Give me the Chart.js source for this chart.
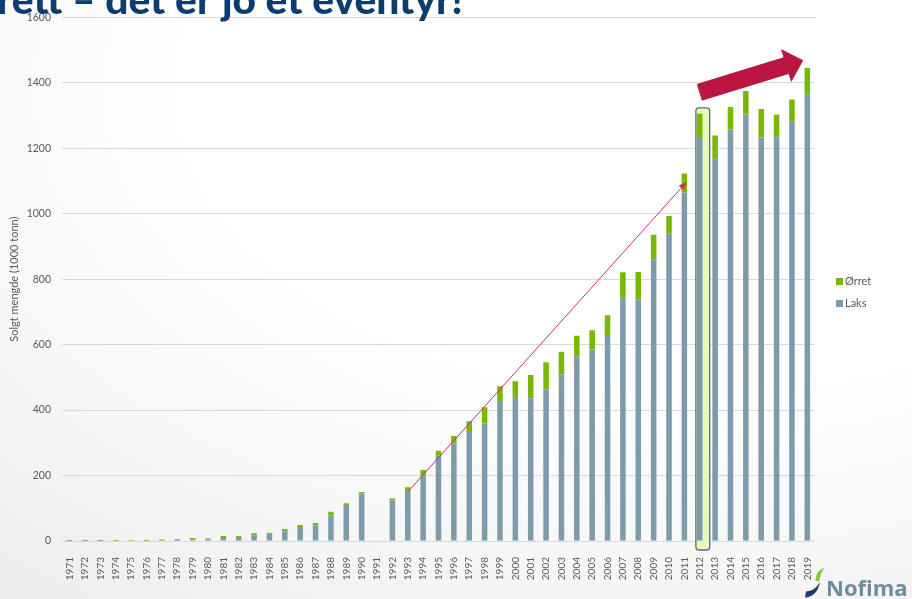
<!DOCTYPE html>
<html>
<head>
<meta charset="utf-8">
<script src="https://cdn.jsdelivr.net/npm/chart.js@4.4.1/dist/chart.umd.min.js"></script>
<style>
  html, body { margin: 0; padding: 0; }
  body {
    width: 912px; height: 599px; overflow: hidden;
    background: radial-gradient(ellipse 120% 110% at 75% 15%, #ffffff 45%, #f4f4f4 80%, #ececec 100%);
  }
  #wrap { position: relative; width: 912px; height: 599px; }
</style>
</head>
<body>
<div id="wrap"><canvas id="salesChart" width="912" height="599"></canvas></div>
<script>
const years = ['1971','1972','1973','1974','1975','1976','1977','1978','1979','1980',
    '1981','1982','1983','1984','1985','1986','1987','1988','1989','1990',
    '1991','1992','1993','1994','1995','1996','1997','1998','1999','2000',
    '2001','2002','2003','2004','2005','2006','2007','2008','2009','2010',
    '2011','2012','2013','2014','2015','2016','2017','2018','2019'];

// Solgt mengde, 1000 tonn
const laks = [0.1, 0.2, 0.2, 0.5, 0.5, 0.8, 1.5, 4, 5, 5,
    9, 10, 17, 22, 29, 43, 47, 78, 110, 145,
    null, 124, 155, 201, 261, 298, 333, 359, 425, 440,
    436, 463, 509, 564, 585, 629, 743, 738, 861, 939,
    1065, 1231, 1168, 1257, 1303, 1233, 1235, 1282, 1364];

const orret = [2, 2, 2, 2.5, 2, 2.5, 3, 2, 4, 3,
    6, 5, 7, 3, 8, 6, 8, 11, 5, 5,
    null, 6, 9, 16, 15, 23, 33, 50, 48, 48,
    71, 83, 69, 63, 59, 61, 78, 84, 75, 54,
    58, 74, 71, 69, 72, 87, 67, 67, 81];

const yTicks = [0, 200, 400, 600, 800, 1000, 1200, 1400, 1600];

const titleText = 'Oppdrett – det er jo et eventyr!';
const textGrey = '#595959';

// highlighted year, and the two arrows (in category index / value units)
const highlightYear = '2012';
const highlightTop = 1323;
const trendLine = { from: [22, 150], to: [40.15, 1097] };
const bigArrow = { from: [41, 1371], to: [47.7, 1468] };

const decorations = {
    id: 'decorations',
    beforeDatasetsDraw(chart) {
        const { ctx } = chart;
        const b = highlightBox(chart);
        ctx.save();
        ctx.fillStyle = '#e6fab9';
        roundRect(ctx, b.x, b.y, b.w, b.h, 3);
        ctx.fill();
        ctx.restore();
    },
    afterDatasetsDraw(chart) {
        const { ctx, scales: { x, y } } = chart;
        const b = highlightBox(chart);
        ctx.save();
        ctx.strokeStyle = '#5e6b70';
        ctx.lineWidth = 1.3;
        roundRect(ctx, b.x, b.y, b.w, b.h, 3);
        ctx.stroke();

        // thin trend arrow
        const x1 = x.getPixelForValue(trendLine.from[0]), y1 = y.getPixelForValue(trendLine.from[1]);
        const x2 = x.getPixelForValue(trendLine.to[0]), y2 = y.getPixelForValue(trendLine.to[1]);
        const ang = Math.atan2(y2 - y1, x2 - x1);
        ctx.strokeStyle = '#c8325a';
        ctx.fillStyle = '#c8325a';
        ctx.lineWidth = 1;
        ctx.beginPath();
        ctx.moveTo(x1, y1);
        ctx.lineTo(x2 - 5 * Math.cos(ang), y2 - 5 * Math.sin(ang));
        ctx.stroke();
        ctx.beginPath();
        ctx.moveTo(x2, y2);
        ctx.lineTo(x2 - 8 * Math.cos(ang) + 3.5 * Math.sin(ang), y2 - 8 * Math.sin(ang) - 3.5 * Math.cos(ang));
        ctx.lineTo(x2 - 8 * Math.cos(ang) - 3.5 * Math.sin(ang), y2 - 8 * Math.sin(ang) + 3.5 * Math.cos(ang));
        ctx.closePath();
        ctx.fill();

        // big block arrow
        const tx = x.getPixelForValue(bigArrow.from[0]), ty = y.getPixelForValue(bigArrow.from[1]);
        const hx = x.getPixelForValue(bigArrow.to[0]), hy = y.getPixelForValue(bigArrow.to[1]);
        const len = Math.hypot(hx - tx, hy - ty);
        const ux = (hx - tx) / len, uy = (hy - ty) / len;
        const nx = -uy, ny = ux;
        const shaft = 8.3, head = 16.5, headLen = 17;
        const bx = hx - ux * headLen, by = hy - uy * headLen;
        ctx.fillStyle = '#bd1541';
        ctx.strokeStyle = '#a5123a';
        ctx.lineWidth = 0.8;
        ctx.beginPath();
        ctx.moveTo(tx + nx * shaft, ty + ny * shaft);
        ctx.lineTo(bx + nx * shaft, by + ny * shaft);
        ctx.lineTo(bx + nx * head, by + ny * head);
        ctx.lineTo(hx, hy);
        ctx.lineTo(bx - nx * head, by - ny * head);
        ctx.lineTo(bx - nx * shaft, by - ny * shaft);
        ctx.lineTo(tx - nx * shaft, ty - ny * shaft);
        ctx.closePath();
        ctx.fill();
        ctx.stroke();
        ctx.restore();
    },
    afterDraw(chart) {
        const { ctx } = chart;
        ctx.save();

        // title, only its lower part is inside the picture (condensed like the original)
        const size = 40;
        ctx.font = '900 ' + size + 'px Lato';
        const part = ctx.measureText('rett – det er jo et eventyr!').width;
        const squeeze = 466 / part;
        ctx.save();
        ctx.translate(463, 14);
        ctx.scale(squeeze, 1);
        ctx.fillStyle = '#0b3d6f';
        ctx.textAlign = 'right';
        ctx.textBaseline = 'alphabetic';
        ctx.fillText(titleText, 0, 0);
        ctx.restore();

        // legend, top series first
        ctx.font = '11px Lato';
        ctx.textAlign = 'left';
        ctx.textBaseline = 'middle';
        const sets = chart.data.datasets.slice().reverse();
        sets.forEach((ds, i) => {
            const ly = 281.5 + i * 22;
            ctx.fillStyle = ds.backgroundColor;
            ctx.fillRect(836, ly - 3.5, 7, 7);
            ctx.fillStyle = textGrey;
            ctx.fillText(ds.label, 845, ly);
        });

        // logo
        ctx.fillStyle = '#1d3f6e';
        ctx.beginPath();
        ctx.moveTo(805, 597.5);
        ctx.quadraticCurveTo(817, 597, 820, 582);
        ctx.quadraticCurveTo(815, 591, 806, 591.5);
        ctx.closePath();
        ctx.fill();
        ctx.fillStyle = '#8cc63f';
        ctx.beginPath();
        ctx.moveTo(815.5, 581);
        ctx.quadraticCurveTo(815, 571, 825, 567.5);
        ctx.quadraticCurveTo(820, 573, 819.5, 581);
        ctx.closePath();
        ctx.fill();
        ctx.font = 'bold 22px "Open Sans"';
        ctx.fillStyle = '#6d8da1';
        ctx.textBaseline = 'alphabetic';
        ctx.fillText('Nofima', 826, 596);
        ctx.restore();
    }
};

function highlightBox(chart) {
    const { x, y } = chart.scales;
    const idx = years.indexOf(highlightYear);
    const cx = x.getPixelForValue(idx);
    const w = x.width / years.length;
    const top = y.getPixelForValue(highlightTop);
    const bottom = y.getPixelForValue(0) + 9;
    return { x: cx - 0.25 * w, y: top, w: 0.9 * w, h: bottom - top };
}

function roundRect(ctx, x, y, w, h, r) {
    ctx.beginPath();
    ctx.moveTo(x + r, y);
    ctx.lineTo(x + w - r, y);
    ctx.quadraticCurveTo(x + w, y, x + w, y + r);
    ctx.lineTo(x + w, y + h - r);
    ctx.quadraticCurveTo(x + w, y + h, x + w - r, y + h);
    ctx.lineTo(x + r, y + h);
    ctx.quadraticCurveTo(x, y + h, x, y + h - r);
    ctx.lineTo(x, y + r);
    ctx.quadraticCurveTo(x, y, x + r, y);
    ctx.closePath();
}

const ctx = document.getElementById('salesChart').getContext('2d');
new Chart(ctx, {
    type: 'bar',
    data: {
        labels: years,
        datasets: [
            { label: 'Laks', data: laks, backgroundColor: '#7e9bab', barPercentage: 0.36, categoryPercentage: 1 },
            { label: 'Ørret', data: orret, backgroundColor: '#77b800', barPercentage: 0.36, categoryPercentage: 1 }
        ]
    },
    options: {
        responsive: false,
        animation: false,
        layout: { padding: { left: 0, right: 97, top: 17, bottom: 0 } },
        plugins: {
            legend: { display: false },
            tooltip: { enabled: false }
        },
        scales: {
            x: {
                stacked: true,
                grid: { display: false },
                border: { display: false },
                ticks: {
                    autoSkip: false,
                    minRotation: 90,
                    maxRotation: 90,
                    padding: 8,
                    color: textGrey,
                    font: { family: 'Lato', size: 10 }
                },
                afterFit(scale) { scale.height = 58; }
            },
            y: {
                stacked: true,
                min: 0,
                max: 1600,
                afterBuildTicks(scale) { scale.ticks = yTicks.map(v => ({ value: v })); },
                grid: { color: '#d9d9d9', lineWidth: 1, drawTicks: false },
                border: { display: false },
                ticks: {
                    padding: 11,
                    color: textGrey,
                    font: { family: 'Lato', size: 10.5 },
                    callback: value => String(value)
                },
                title: {
                    display: true,
                    text: 'Solgt mengde (1000 tonn)',
                    color: textGrey,
                    font: { family: 'Lato', size: 11 },
                    padding: { top: 8, bottom: 4 }
                },
                afterFit(scale) { scale.width = 62; }
            }
        }
    },
    plugins: [decorations]
});
</script>
</body>
</html>
